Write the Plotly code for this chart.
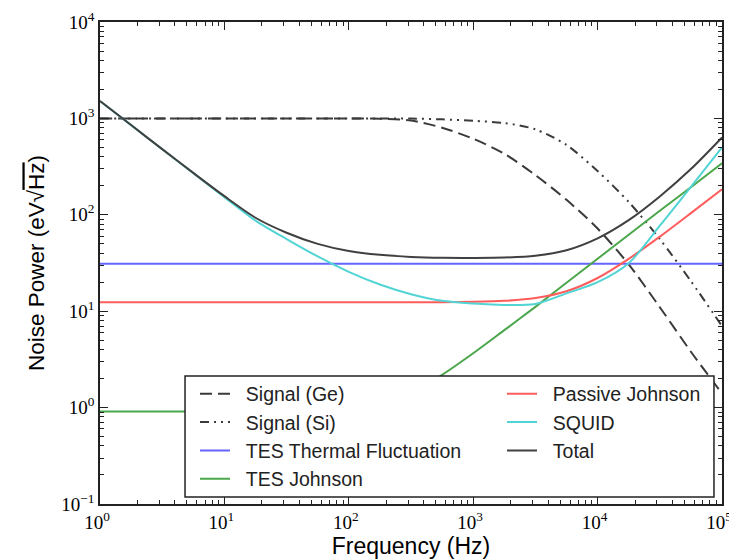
import plotly.graph_objects as go

# frequencies (Hz), quarter-decade grid
freq = [1, 1.778, 3.162, 5.623, 10, 17.78, 31.62, 56.23, 100, 177.8, 316.2, 562.3,
        1000, 1778, 3162, 5623, 10000, 17783, 31623, 56234, 100000]

signal_ge = [1000, 1000, 1000, 1000, 1000, 1000, 1000, 1000, 1000, 990, 950, 800,
             615, 430, 258, 143, 72, 30.6, 11, 3.8, 1.4]
signal_si = [1000, 1000, 1000, 1000, 1000, 1000, 1000, 1000, 1000, 1000, 995, 978,
             945, 895, 770, 530, 284, 136, 56, 20.5, 7.0]
tes_thermal = [31, 31, 31, 31, 31, 31, 31, 31, 31, 31, 31, 31,
               31, 31, 31, 31, 31, 31, 31, 31, 31]
tes_johnson = [0.91, 0.91, 0.91, 0.91, 0.91, 0.91, 0.91, 0.92, 0.97, 1.1, 1.44, 2.19,
               3.66, 6.36, 11.1, 19.7, 35, 62, 110, 193, 342]
passive_johnson = [12.4, 12.4, 12.4, 12.4, 12.4, 12.4, 12.4, 12.4, 12.4, 12.4, 12.4, 12.4,
                   12.5, 12.8, 13.7, 16.1, 22.1, 34.9, 59.3, 104, 184]
squid = [1515, 852, 479, 270, 152, 87, 56, 37, 25.6, 18.9, 15.0, 12.8,
         12.0, 11.6, 11.9, 15.3, 20, 31.5, 77, 195, 500]
total = [1515, 853, 480, 272, 156, 93.2, 65.2, 49.9, 42.1, 38.4, 36.6, 35.8,
         35.7, 36.0, 37.6, 42.9, 57, 88, 155, 298, 634]

y_tickvals = [0.1, 1, 10, 100, 1000, 10000]
y_ticktext = ["10<sup>−1</sup>", "10<sup>0</sup>", "10<sup>1</sup>", "10<sup>2</sup>",
              "10<sup>3</sup>", "10<sup>4</sup>"]
x_tickvals = [1, 10, 100, 1000, 10000, 100000]
x_ticktext = ["10<sup>0</sup>", "10<sup>1</sup>", "10<sup>2</sup>", "10<sup>3</sup>",
              "10<sup>4</sup>", "10<sup>5</sup>"]

series = [
    ("Signal (Ge)", signal_ge, "#3a3a3a", "12px,6px", "legend"),
    ("Signal (Si)", signal_si, "#3a3a3a", "9px,5px,2px,5px,2px,5px", "legend"),
    ("TES Thermal Fluctuation", tes_thermal, "#6464ff", "solid", "legend"),
    ("TES Johnson", tes_johnson, "#4aa64a", "solid", "legend"),
    ("Passive Johnson", passive_johnson, "#ff5c5c", "solid", "legend2"),
    ("SQUID", squid, "#52d4d4", "solid", "legend2"),
    ("Total", total, "#404040", "solid", "legend2"),
]

NBSP = "\u00a0\u00a0"
fig = go.Figure()
for name, vals, color, dash, lg in series:
    fig.add_trace(go.Scatter(
        x=freq, y=vals, name=NBSP + name, mode="lines",
        line=dict(color=color, width=2, dash=dash, shape="spline", smoothing=0.8),
        legend=lg,
    ))

def minor_vals(lo, hi):
    out = []
    for e in range(lo, hi):
        for m in range(2, 10):
            out.append(m * 10 ** e)
    return out

tickfont = dict(family="Liberation Serif", size=19, color="black")
axis_common = dict(
    type="log", showgrid=False, zeroline=False, automargin=False,
    showline=True, linecolor="#222", linewidth=1.5, mirror="allticks",
    ticks="inside", ticklen=8, tickwidth=1, tickcolor="#222",
    tickmode="array", tickfont=tickfont,
)

fig.update_xaxes(
    **axis_common, range=[0, 5], tickvals=x_tickvals, ticktext=x_ticktext,
    ticklabelshift=-3, ticklabeloverflow="allow",
    minor=dict(tickmode="array", tickvals=minor_vals(0, 5), ticks="inside",
               ticklen=4, tickcolor="#222", showgrid=False),
    title=dict(text="Frequency (Hz)", font=dict(family="Liberation Sans", size=23, color="black"),
               standoff=6),
)
fig.update_yaxes(
    **axis_common, range=[-1, 4], tickvals=y_tickvals, ticktext=y_ticktext,
    minor=dict(tickmode="array", tickvals=minor_vals(-1, 4), ticks="inside",
               ticklen=4, tickcolor="#222", showgrid=False),
    title=dict(text="Noise Power (eV√<span style=\"text-decoration:overline\">Hz</span>)",
               font=dict(family="Liberation Sans", size=22.5, color="black"), standoff=10),
)

legend_font = dict(family="Liberation Sans", size=19.5, color="#222")
# page body has an 8px margin, so the figure is 8px smaller than the window
fig.update_layout(
    width=729, height=551,
    margin=dict(l=92, r=15, t=14, b=55),
    paper_bgcolor="white", plot_bgcolor="white",
    showlegend=True,
    legend=dict(x=0.1527, y=0.2686, xanchor="left", yanchor="top",
                bgcolor="rgba(0,0,0,0)", borderwidth=0, font=legend_font),
    legend2=dict(x=0.6463, y=0.2686, xanchor="left", yanchor="top",
                 bgcolor="rgba(0,0,0,0)", borderwidth=0, font=legend_font),
    shapes=[dict(type="rect", xref="paper", yref="paper",
                 x0=0.1367, x1=0.9871, y0=0.0145, y1=0.2656,
                 fillcolor="white", line=dict(color="#222", width=1.5), layer="above")],
)

fig.write_html("out.html")
